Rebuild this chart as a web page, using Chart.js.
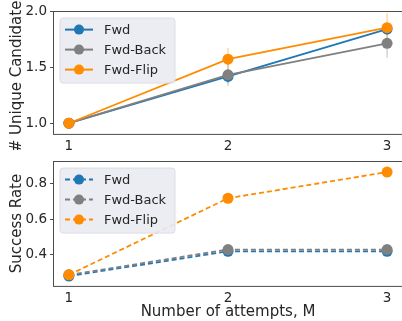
<!DOCTYPE html>
<html>
<head>
<meta charset="utf-8">
<script src="https://cdn.jsdelivr.net/npm/chart.js@4/dist/chart.umd.min.js"></script>
<style>
    html, body { margin: 0; padding: 0; background: #fff; overflow: hidden; width: 402px; height: 321px; }
    .panel { position: absolute; left: 0; }
</style>
</head>
<body>
<div class="panel" style="top:0; width:410px; height:150px;"><canvas id="topChart"></canvas></div>
<div class="panel" style="top:150px; width:410px; height:171px;"><canvas id="bottomChart"></canvas></div>
<script>
const attempts = [1, 2, 3];
const seriesNames = ['Fwd', 'Fwd-Back', 'Fwd-Flip'];
const seriesColors = ['#1f77b4', '#808080', '#ff8c00'];

const candFwd = [1.0, 1.417, 1.84];
const candBack = [1.0, 1.432, 1.713];
const candFlip = [1.0, 1.571, 1.852];
const candFwdErr = [0, 0.06, 0.05];
const candBackErr = [0, 0.1, 0.13];
const candFlipErr = [0, 0.1, 0.13];

const rateFwd = [0.278, 0.418, 0.418];
const rateBack = [0.285, 0.428, 0.428];
const rateFlip = [0.285, 0.718, 0.866];

const candTicks = [1.0, 1.5, 2.0];
const rateTicks = [0.4, 0.6, 0.8];
const xTicks = [1, 2, 3];

const TEXT = '#262626';
const SPINE = '#4d4d4d';
const FONT = "'DejaVu Sans', sans-serif";

function toPoints(values) {
    return values.map((v, i) => ({ x: attempts[i], y: v }));
}

const frameAndLegend = {
    id: 'frameAndLegend',
    beforeDatasetsDraw(chart) {
        const errs = chart.options.plugins.frameAndLegend.errors;
        if (!errs) return;
        const ctx = chart.ctx;
        const xs = chart.scales.x, ys = chart.scales.y;
        ctx.save();
        ctx.lineWidth = 1.5;
        chart.data.datasets.forEach((ds, di) => {
            ctx.strokeStyle = ds.borderColor;
            ctx.globalAlpha = 0.35;
            ds.data.forEach((p, i) => {
                const e = errs[di][i];
                if (!e) return;
                ctx.beginPath();
                ctx.moveTo(xs.getPixelForValue(p.x), ys.getPixelForValue(p.y - e));
                ctx.lineTo(xs.getPixelForValue(p.x), ys.getPixelForValue(p.y + e));
                ctx.stroke();
            });
        });
        ctx.restore();
    },
    afterDraw(chart) {
        const ctx = chart.ctx;
        const a = chart.chartArea;
        const dashed = chart.options.plugins.frameAndLegend.dashed;
        ctx.save();
        ctx.strokeStyle = SPINE;
        ctx.lineWidth = 1;
        ctx.strokeRect(Math.round(a.left) + 0.5, Math.round(a.top) + 0.5, a.right - a.left, a.bottom - a.top);

        const bx = a.left + 7, by = a.top + 7, bw = 115, bh = 65;
        ctx.fillStyle = 'rgba(234,234,242,0.9)';
        ctx.strokeStyle = '#dcdce6';
        ctx.beginPath();
        ctx.roundRect(bx, by, bw, bh, 3);
        ctx.fill();
        ctx.stroke();

        ctx.font = '13px ' + FONT;
        ctx.textBaseline = 'middle';
        chart.data.datasets.forEach((ds, i) => {
            const yy = by + 11.5 + i * 20;
            ctx.strokeStyle = ds.borderColor;
            ctx.lineWidth = 2;
            ctx.setLineDash(dashed ? [5, 3] : []);
            ctx.beginPath();
            ctx.moveTo(bx + 5, yy);
            ctx.lineTo(bx + 33, yy);
            ctx.stroke();
            ctx.setLineDash([]);
            ctx.fillStyle = ds.borderColor;
            ctx.beginPath();
            ctx.arc(bx + 19, yy, 5, 0, Math.PI * 2);
            ctx.fill();
            ctx.fillStyle = TEXT;
            ctx.fillText(ds.label, bx + 44, yy + 1);
        });
        ctx.restore();
    }
};

function makeDatasets(series, dashed) {
    return series.map((vals, i) => ({
        label: seriesNames[i],
        data: toPoints(vals),
        order: series.length - 1 - i,
        borderColor: seriesColors[i],
        backgroundColor: seriesColors[i],
        borderWidth: 1.8,
        borderDash: dashed ? [5, 3] : [],
        pointRadius: 5.5,
        pointHoverRadius: 5.5,
        pointBorderWidth: 0,
        tension: 0
    }));
}

function buildPanel(id, series, opts) {
    const ctx = document.getElementById(id);
    return new Chart(ctx, {
        type: 'line',
        plugins: [frameAndLegend],
        data: { datasets: makeDatasets(series, opts.dashed) },
        options: {
            responsive: true,
            maintainAspectRatio: false,
            animation: false,
            layout: { padding: { top: opts.padTop, right: 7, left: 0, bottom: 0 } },
            plugins: {
                legend: { display: false },
                tooltip: { enabled: false },
                frameAndLegend: { dashed: opts.dashed, errors: opts.errors }
            },
            scales: {
                x: {
                    type: 'linear',
                    min: 0.9,
                    max: 3.1,
                    afterBuildTicks: s => { s.ticks = xTicks.map(v => ({ value: v })); },
                    afterFit: s => { s.height = opts.xHeight; },
                    grid: { drawOnChartArea: false, drawTicks: false },
                    border: { display: false },
                    ticks: { color: TEXT, font: { family: FONT, size: 13.5 }, padding: 4, maxRotation: 0 },
                    title: {
                        display: !!opts.xTitle,
                        text: opts.xTitle || '',
                        color: TEXT,
                        font: { family: FONT, size: 15 },
                        padding: { top: 0, bottom: 0 }
                    }
                },
                y: {
                    min: opts.yMin,
                    max: opts.yMax,
                    afterBuildTicks: s => { s.ticks = opts.yTicks.map(v => ({ value: v })); },
                    afterFit: s => { s.width = 53; },
                    grid: { drawOnChartArea: false, drawTicks: true, tickLength: 3, color: SPINE },
                    border: { display: false },
                    ticks: {
                        color: TEXT,
                        font: { family: FONT, size: 13.5 },
                        padding: 3,
                        callback: v => v.toFixed(1)
                    },
                    title: {
                        display: true,
                        text: opts.yTitle,
                        color: TEXT,
                        font: { family: FONT, size: 15 },
                        padding: { top: 8, bottom: 0 }
                    }
                }
            }
        }
    });
}

buildPanel('topChart', [candFwd, candBack, candFlip], {
    dashed: false,
    errors: [candFwdErr, candBackErr, candFlipErr],
    padTop: 8,
    xHeight: 16,
    yMin: 0.904,
    yMax: 2.0,
    yTicks: candTicks,
    yTitle: '# Unique Candidates'
});

buildPanel('bottomChart', [rateFwd, rateBack, rateFlip], {
    dashed: true,
    errors: null,
    padTop: 9,
    xHeight: 35,
    yMin: 0.222,
    yMax: 0.928,
    yTicks: rateTicks,
    yTitle: 'Success Rate',
    xTitle: 'Number of attempts, M'
});
</script>
</body>
</html>
